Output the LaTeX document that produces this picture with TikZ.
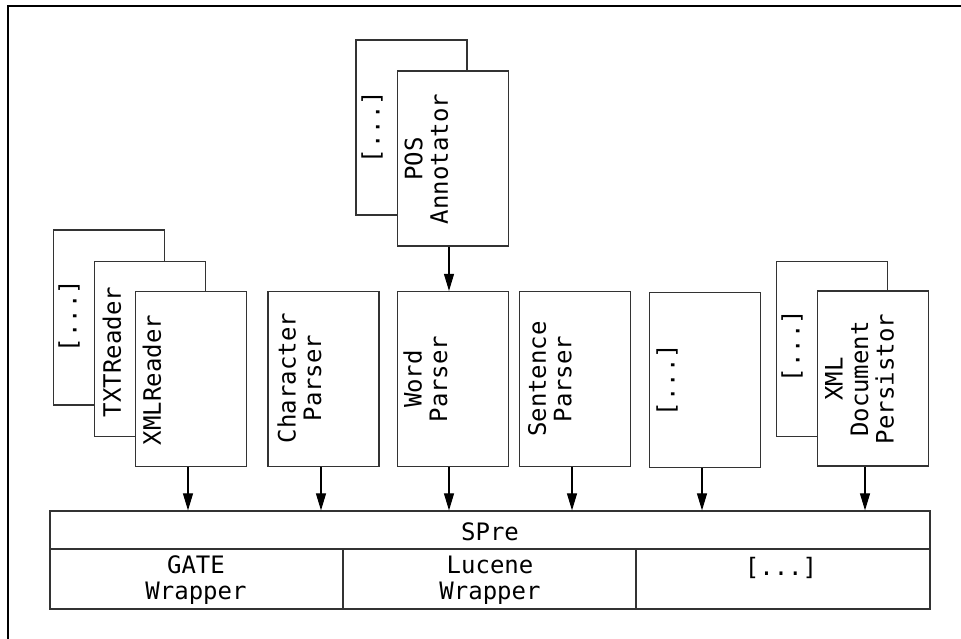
\documentclass[tikz,border=0pt]{standalone}
\usepackage{fontspec}
\newfontfamily\dmono{DejaVu Sans Mono}
\usetikzlibrary{arrows.meta,calc}
\tikzset{
  box/.style={draw=black!80, line width=1.2pt, fill=white, minimum width=111pt, minimum height=175pt, inner sep=0pt},
  cell/.style={draw=black!80, line width=1.2pt, inner sep=0pt},
  vlabel/.style={rotate=90, align=center, inner sep=0pt, font=\dmono\fontsize{24}{25.5}\selectfont},
  hlabel/.style={align=center, inner sep=0pt, font=\dmono\fontsize{24}{25.5}\selectfont},
  arr/.style={draw=black, line width=1.1pt, -{Triangle[length=17pt,width=10pt]}}
}
\begin{document}
\begin{tikzpicture}[x=1pt,y=-1pt]
\useasboundingbox (0,0) rectangle (961,639);
% outer frame
\draw[line width=1.8pt, black] (8,639) -- (8,6) -- (961,6);

% reader stack
\node[box] (rback) at (109,317.5) {};
\node[box] (rtxt) at (150,349) {};
\node[box] (rxml) at (191,379) {};
\node[vlabel] (trback) at (69,316) {[...]};
\node[vlabel] (trtxt) at (112,352) {TXTReader};
\node[vlabel] (trxml) at (152,380) {XMLReader};

% parsers
\node[box] (char) at (323.5,379) {};
\node[box] (word) at (453,379) {};
\node[box] (sent) at (575,379) {};
\node[box] (dots) at (705,380) {};
\node[vlabel] (tchar) at (299.5,378) {Character\\Parser};
\node[vlabel] (tword) at (425.5,379) {Word\\Parser};
\node[vlabel] (tsent) at (550,379) {Sentence\\Parser};
\node[vlabel] (tdots) at (667,380) {[...]};

% persistor stack
\node[box] (pback) at (832,349) {};
\node[box] (pers) at (873,378.5) {};
\node[vlabel] (tpback) at (792,346) {[...]};
\node[vlabel] (tpers) at (859.5,379) {XML\\Document\\Persistor};

% annotator stack
\node[box] (posback) at (411.5,127.5) {};
\node[box] (pos) at (453,158.5) {};
\node[vlabel] (tposback) at (372,127) {[...]};
\node[vlabel] (tpos) at (426.5,159) {POS\\Annotator};

% SPre block
\node[cell, minimum width=880pt, minimum height=38pt] (spre) at (490,530) {};
\node[hlabel] (tspre) at (490,532) {SPre};
\node[cell, minimum width=293pt, minimum height=60pt] (gate) at (196.5,579) {};
\node[cell, minimum width=293pt, minimum height=60pt] (luc) at (489.5,579) {};
\node[cell, minimum width=294pt, minimum height=60pt] (other) at (783,579) {};
\node[hlabel] (tgate) at (196,580) {GATE\\Wrapper};
\node[hlabel] (tluc) at (490,580) {Lucene\\Wrapper};
\node[hlabel] (tother) at (781,568) {[...]};

% arrows
\draw[arr] ([xshift=-4pt]pos.south) -- ([xshift=-4pt]pos.south |- word.north);
\draw[arr] ([xshift=-3pt]rxml.south) -- ([xshift=-3pt]rxml.south |- spre.north);
\draw[arr] ([xshift=-2.5pt]char.south) -- ([xshift=-2.5pt]char.south |- spre.north);
\draw[arr] ([xshift=-4pt]word.south) -- ([xshift=-4pt]word.south |- spre.north);
\draw[arr] ([xshift=-3pt]sent.south) -- ([xshift=-3pt]sent.south |- spre.north);
\draw[arr] ([xshift=-3pt]dots.south) -- ([xshift=-3pt]dots.south |- spre.north);
\draw[arr] ([xshift=-8pt]pers.south) -- ([xshift=-8pt]pers.south |- spre.north);
\end{tikzpicture}
\end{document}
